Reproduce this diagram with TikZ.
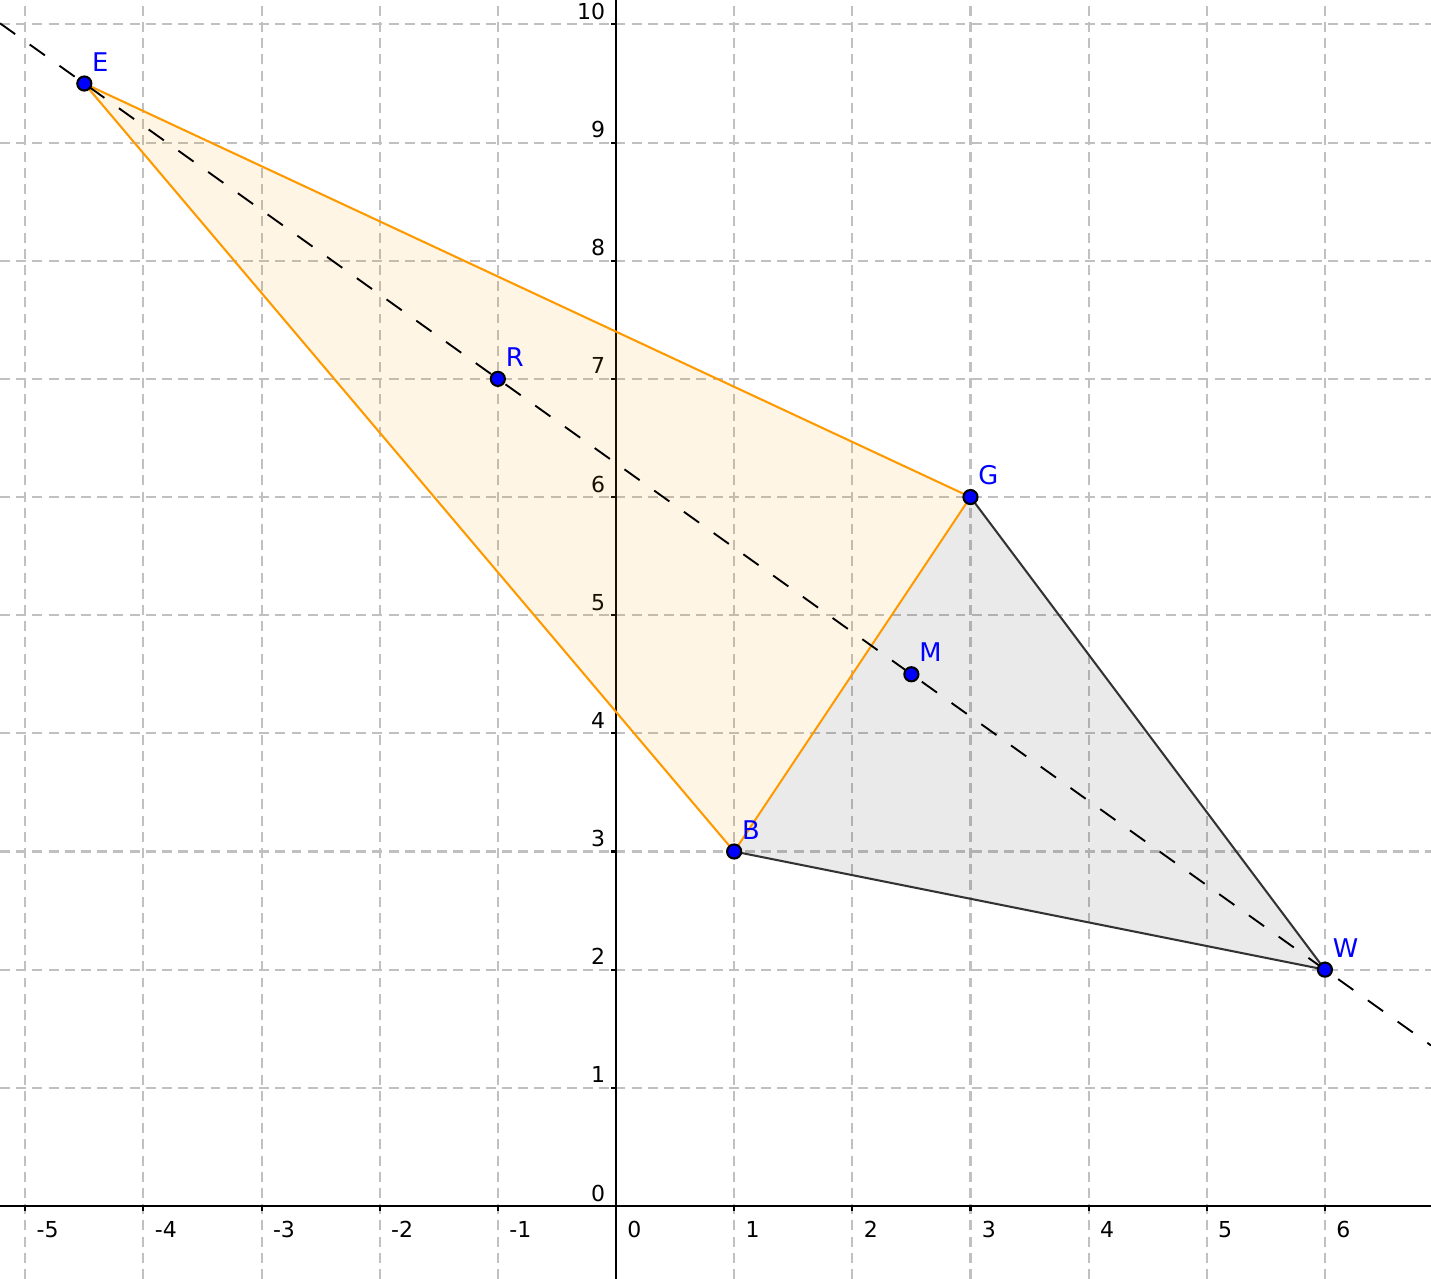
\documentclass[tikz,border=0pt]{standalone}
\usepackage{fontspec}
\setmainfont{DejaVu Sans}
\definecolor{edgeorange}{HTML}{FF9900}
\definecolor{edgegray}{HTML}{333333}
\definecolor{gridgray}{HTML}{C0C0C0}

\begin{document}
\begin{tikzpicture}[x=1cm, y=1cm,
    gridline/.style={draw=gridgray, line width=0.5pt, dash pattern=on 2.4pt off 1.5pt},
    axisline/.style={draw=black, line width=0.5pt},
    ticklabel/.style={font=\fontsize{5.3}{6}\selectfont, inner sep=0pt},
    dot/.style={circle, fill=blue, draw=black, line width=0.5pt, inner sep=0pt, minimum size=3.4pt},
    ptlabel/.style={font=\fontsize{6.2}{7}\selectfont, text=blue, inner sep=0pt, anchor=base west,
      xshift=0.06cm, yshift=0.105cm}]
    \useasboundingbox (-5.2137, -0.618) rectangle (6.898, 10.207);

    % points
    \coordinate (E) at (-4.5, 9.5);
    \coordinate (R) at (-1, 7);
    \coordinate (G) at (3, 6);
    \coordinate (M) at (2.5, 4.5);
    \coordinate (B) at (1, 3);
    \coordinate (W) at (6, 2);
    \coordinate (lnA) at (-5.2137, 10.0098);
    \coordinate (lnB) at (6.898, 1.3586);

    % grid and axes
    \draw[gridline] (-5.2137, -0.618) grid (6.898, 10.207);
    \draw[axisline] (-5.2137, 0) -- (6.898, 0);
    \draw[axisline] (0, -0.618) -- (0, 10.207);
    \foreach \i in {-5,...,6} {
      \draw[axisline] (\i, 0) -- (\i, -0.045);
      \node[ticklabel, anchor=north west] at (\i+0.09, -0.125) {\i};
    }
    \foreach \j in {0,...,10} {
      \draw[axisline] (0, \j) -- (-0.045, \j);
      \node[ticklabel, anchor=base east] at (-0.085, \j+0.042) {\j};
    }

    % triangles
    \fill[edgeorange, fill opacity=0.1] (E) -- (G) -- (B) -- cycle;
    \fill[edgegray, fill opacity=0.1] (B) -- (G) -- (W) -- cycle;
    \draw[edgegray, line width=0.5pt] (G) -- (W) -- (B);
    \draw[edgeorange, line width=0.5pt] (B) -- (E) -- (G) -- (B);

    % line through E and W
    \draw[black, line width=0.45pt, dash pattern=on 4.5pt off 4.3pt] (lnA) -- (lnB);

    \foreach \p in {E,R,G,M,B,W} {
      \node[dot] (dot\p) at (\p) {};
      \node[ptlabel] (lbl\p) at (\p) {\p};
    }
  \end{tikzpicture}
\end{document}
